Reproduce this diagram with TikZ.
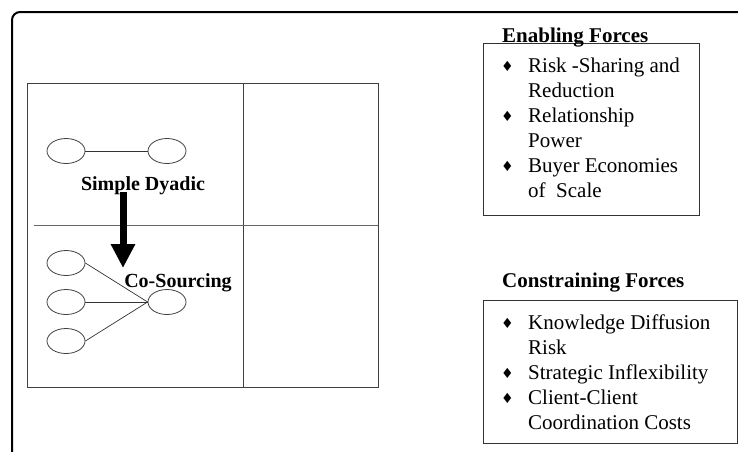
\documentclass[tikz,border=0pt]{standalone}
\usepackage{amsmath,amssymb}
\usepackage{fontspec}
\setmainfont{Liberation Serif}
\newfontfamily\diamondfont{DejaVu Sans}
\usetikzlibrary{shapes.geometric, arrows.meta, positioning}
\newcommand{\bul}{\raisebox{1pt}{\diamondfont\fontsize{14}{14}\selectfont ♦}}

\tikzset{
  party/.style={ellipse, draw=black!75, line width=0.8pt, minimum width=38pt, minimum height=25pt, inner sep=0pt},
  tie/.style={draw=black!80, line width=0.7pt},
  modellabel/.style={font=\fontsize{20}{24}\selectfont\bfseries, inner sep=0pt, anchor=base},
  forcetitle/.style={font=\fontsize{21}{25}\selectfont\bfseries, inner sep=0pt, anchor=base west},
  forcebox/.style={draw=black!80, line width=0.8pt, anchor=north west, inner sep=0pt},
  forcelist/.style={font=\fontsize{21}{25}\selectfont, inner sep=0pt, anchor=north west}
}

\begin{document}
\begin{tikzpicture}[x=1pt, y=-1pt]
  \useasboundingbox (0,0) rectangle (738,451);
  \clip (0,0) rectangle (738,451);
  % Outer frame
  \draw[line width=2pt, rounded corners=8pt] (12,480) rectangle (770,12);
  % Quadrant grid
  \draw[black!75, line width=0.8pt] (27,83) rectangle (378,387);
  \draw[black!75, line width=0.8pt] (243,83) -- (243,387);
  \draw[black!60, line width=0.8pt] (34,225) -- (378,225);
  % Simple dyadic
  \node[party] (buyer) at (66,151) {};
  \node[party] (supplier) at (167,151) {};
  \draw[tie] (buyer) -- (supplier);
  \node[modellabel] (dyadic) at (143,190) {Simple Dyadic};
  % Co-sourcing
  \foreach \i/\y in {1/263,2/302,3/341}
    \node[party] (client\i) at (66,\y) {};
  \node[party] (vendor) at (167,302) {};
  \foreach \i in {1,2,3}
    \draw[tie] (client\i.east) -- (vendor.west);
  \node[modellabel] (cosourcing) at (178,287) {Co-Sourcing};
  % Shift arrow
  \coordinate (shiftstart) at (123,192);
  \coordinate (shiftend) at (123,268);
  \draw[line width=7pt, -{Triangle[width=23pt,length=24pt]}] (shiftstart) -- (shiftend);
  % Enabling forces
  \node[forcebox, minimum width=216pt, minimum height=172pt] (enablingbox) at (483,43) {};
  \node[forcetitle] (enablingtitle) at (502,42) {Enabling Forces};
  \node[forcelist] (enablinglist) at (501,54.5) {%
    \begin{tabular}{@{}p{27pt}@{}l@{}}
      \bul & Risk -Sharing and\\
           & Reduction\\
      \bul & Relationship\\
           & Power\\
      \bul & Buyer Economies\\
           & of\ \ Scale
    \end{tabular}};
  % Constraining forces
  \node[forcetitle] (constrainingtitle) at (502,287) {Constraining Forces};
  \node[forcebox, minimum width=254pt, minimum height=143pt] (constrainingbox) at (483,300) {};
  \node[forcelist] (constraininglist) at (501,311.5) {%
    \begin{tabular}{@{}p{27pt}@{}l@{}}
      \bul & Knowledge Diffusion\\
           & Risk\\
      \bul & Strategic Inflexibility\\
      \bul & Client-Client\\
           & Coordination Costs
    \end{tabular}};
\end{tikzpicture}
\end{document}
